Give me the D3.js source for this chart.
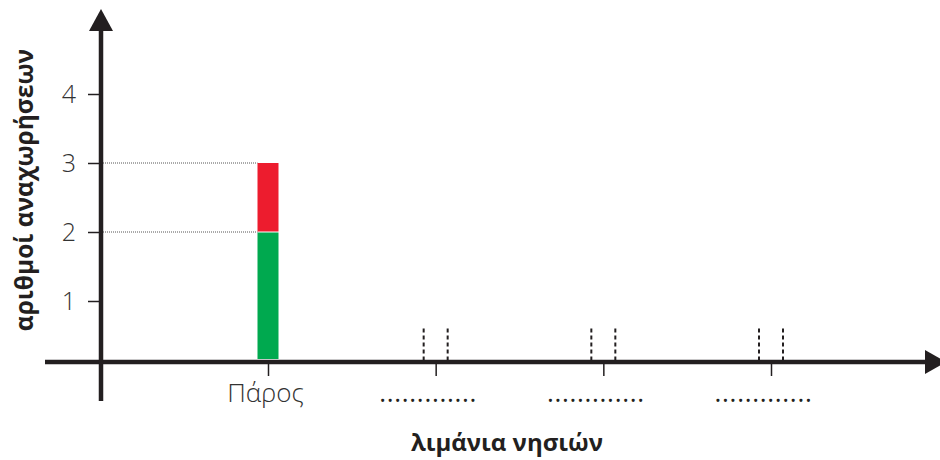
<!DOCTYPE html>
<html>
<head>
<meta charset="utf-8">
<script src="https://cdn.jsdelivr.net/npm/d3@7"></script>
<style>
  body { margin: 0; background: #fff; }
  svg { display: block; }
  .tick text { font-family: "Open Sans", sans-serif; font-weight: 300; fill: #333; }
  .title { font-family: "Open Sans", sans-serif; font-weight: 700; fill: #231f20; }
</style>
</head>
<body>
<svg id="chart"></svg>
<script>
// data
var categories = ["p", "c2", "c3", "c4"];
var catLabels = ["Πάρος", ".............", ".............", "............."];
var greenValues = [2, null, null, null];
var redValues = [1, null, null, null];
var emptySlots = ["c2", "c3", "c4"];
var slotHeight = 0.6;
var yTicks = [1, 2, 3, 4];

var width = 940, height = 460;
var axisColor = "#231f20";

var svg = d3.select("#chart")
    .attr("width", width)
    .attr("height", height);

var x = d3.scalePoint().domain(categories).range([268, 771]);
var y = d3.scaleLinear().domain([0, 4]).range([370, 94]);

var axisX = 101, axisY = 362, barW = 21;

// y axis ticks + labels
var yAxis = d3.axisLeft(y).tickValues(yTicks).tickSize(13).tickPadding(12)
    .tickFormat(d3.format("d"));
var gy = svg.append("g")
    .attr("transform", "translate(" + axisX + ",0)")
    .call(yAxis);
gy.select(".domain").remove();
gy.selectAll(".tick line").attr("stroke", axisColor).attr("stroke-width", 1.5);
gy.selectAll(".tick text").style("font-size", "25px");

// x axis ticks + labels
var xAxis = d3.axisBottom(x).tickSize(14).tickPadding(8)
    .tickFormat(function(d, i) { return catLabels[i]; });
var gx = svg.append("g")
    .attr("transform", "translate(0," + axisY + ")")
    .call(xAxis);
gx.select(".domain").remove();
gx.selectAll(".tick line").attr("stroke", axisColor).attr("stroke-width", 1.5);
gx.selectAll(".tick text")
    .style("font-size", "26px")
    .attr("dx", function(d, i) { return i == 0 ? -3 : -8; })
    .style("font-weight", function(d, i) { return i == 0 ? 300 : 400; })
    .style("fill", function(d, i) { return i == 0 ? "#333" : axisColor; })
    .style("letter-spacing", function(d, i) { return i == 0 ? "0px" : "0.7px"; });

// dotted guides
var barData = categories.map(function(c, i) {
  return {cat: c, green: greenValues[i], red: redValues[i]};
}).filter(function(d) { return d.green != null; });

barData.forEach(function(d) {
  [d.green, d.green + d.red].forEach(function(v) {
    svg.append("line")
        .attr("x1", axisX).attr("x2", x(d.cat) - barW / 2)
        .attr("y1", y(v)).attr("y2", y(v))
        .attr("stroke", "#555").attr("stroke-width", 1)
        .attr("stroke-dasharray", "1,1");
  });
});

// bars
var bars = svg.selectAll(".bar").data(barData).enter().append("g");
bars.append("rect")
    .attr("x", function(d) { return x(d.cat) - barW / 2; })
    .attr("width", barW)
    .attr("y", function(d) { return y(d.green) + 0.5; })
    .attr("height", function(d) { return (axisY - 3) - y(d.green) - 0.5; })
    .attr("fill", "#00a94f");
bars.append("rect")
    .attr("x", function(d) { return x(d.cat) - barW / 2; })
    .attr("width", barW)
    .attr("y", function(d) { return y(d.green + d.red); })
    .attr("height", function(d) { return y(d.green) - y(d.green + d.red) - 0.5; })
    .attr("fill", "#ed1c2e");

// empty slots (dashed outlines)
emptySlots.forEach(function(c) {
  [-12, 12].forEach(function(off) {
    svg.append("line")
        .attr("x1", x(c) + off).attr("x2", x(c) + off)
        .attr("y1", y(slotHeight)).attr("y2", axisY - 2)
        .attr("stroke", axisColor).attr("stroke-width", 2)
        .attr("stroke-dasharray", "4,3");
  });
});

// main axes with arrows
svg.append("line")
    .attr("x1", 45).attr("x2", 928)
    .attr("y1", axisY).attr("y2", axisY)
    .attr("stroke", axisColor).attr("stroke-width", 4.5);
svg.append("path")
    .attr("d", "M925," + (axisY - 12) + "L946," + axisY + "L925," + (axisY + 12) + "Z")
    .attr("fill", axisColor);

svg.append("line")
    .attr("x1", axisX).attr("x2", axisX)
    .attr("y1", 28).attr("y2", 401)
    .attr("stroke", axisColor).attr("stroke-width", 4.5);
svg.append("path")
    .attr("d", "M" + (axisX - 12) + ",31L" + axisX + ",9L" + (axisX + 12) + ",31Z")
    .attr("fill", axisColor);

// titles
svg.append("text")
    .attr("class", "title")
    .attr("transform", "translate(33,190) rotate(-90)")
    .attr("text-anchor", "middle")
    .style("font-size", "24.5px")
    .text("αριθμοί αναχωρήσεων");

svg.append("text")
    .attr("class", "title")
    .attr("x", 507).attr("y", 451)
    .attr("text-anchor", "middle")
    .style("font-size", "24px")
    .text("λιμάνια νησιών");
</script>
</body>
</html>
